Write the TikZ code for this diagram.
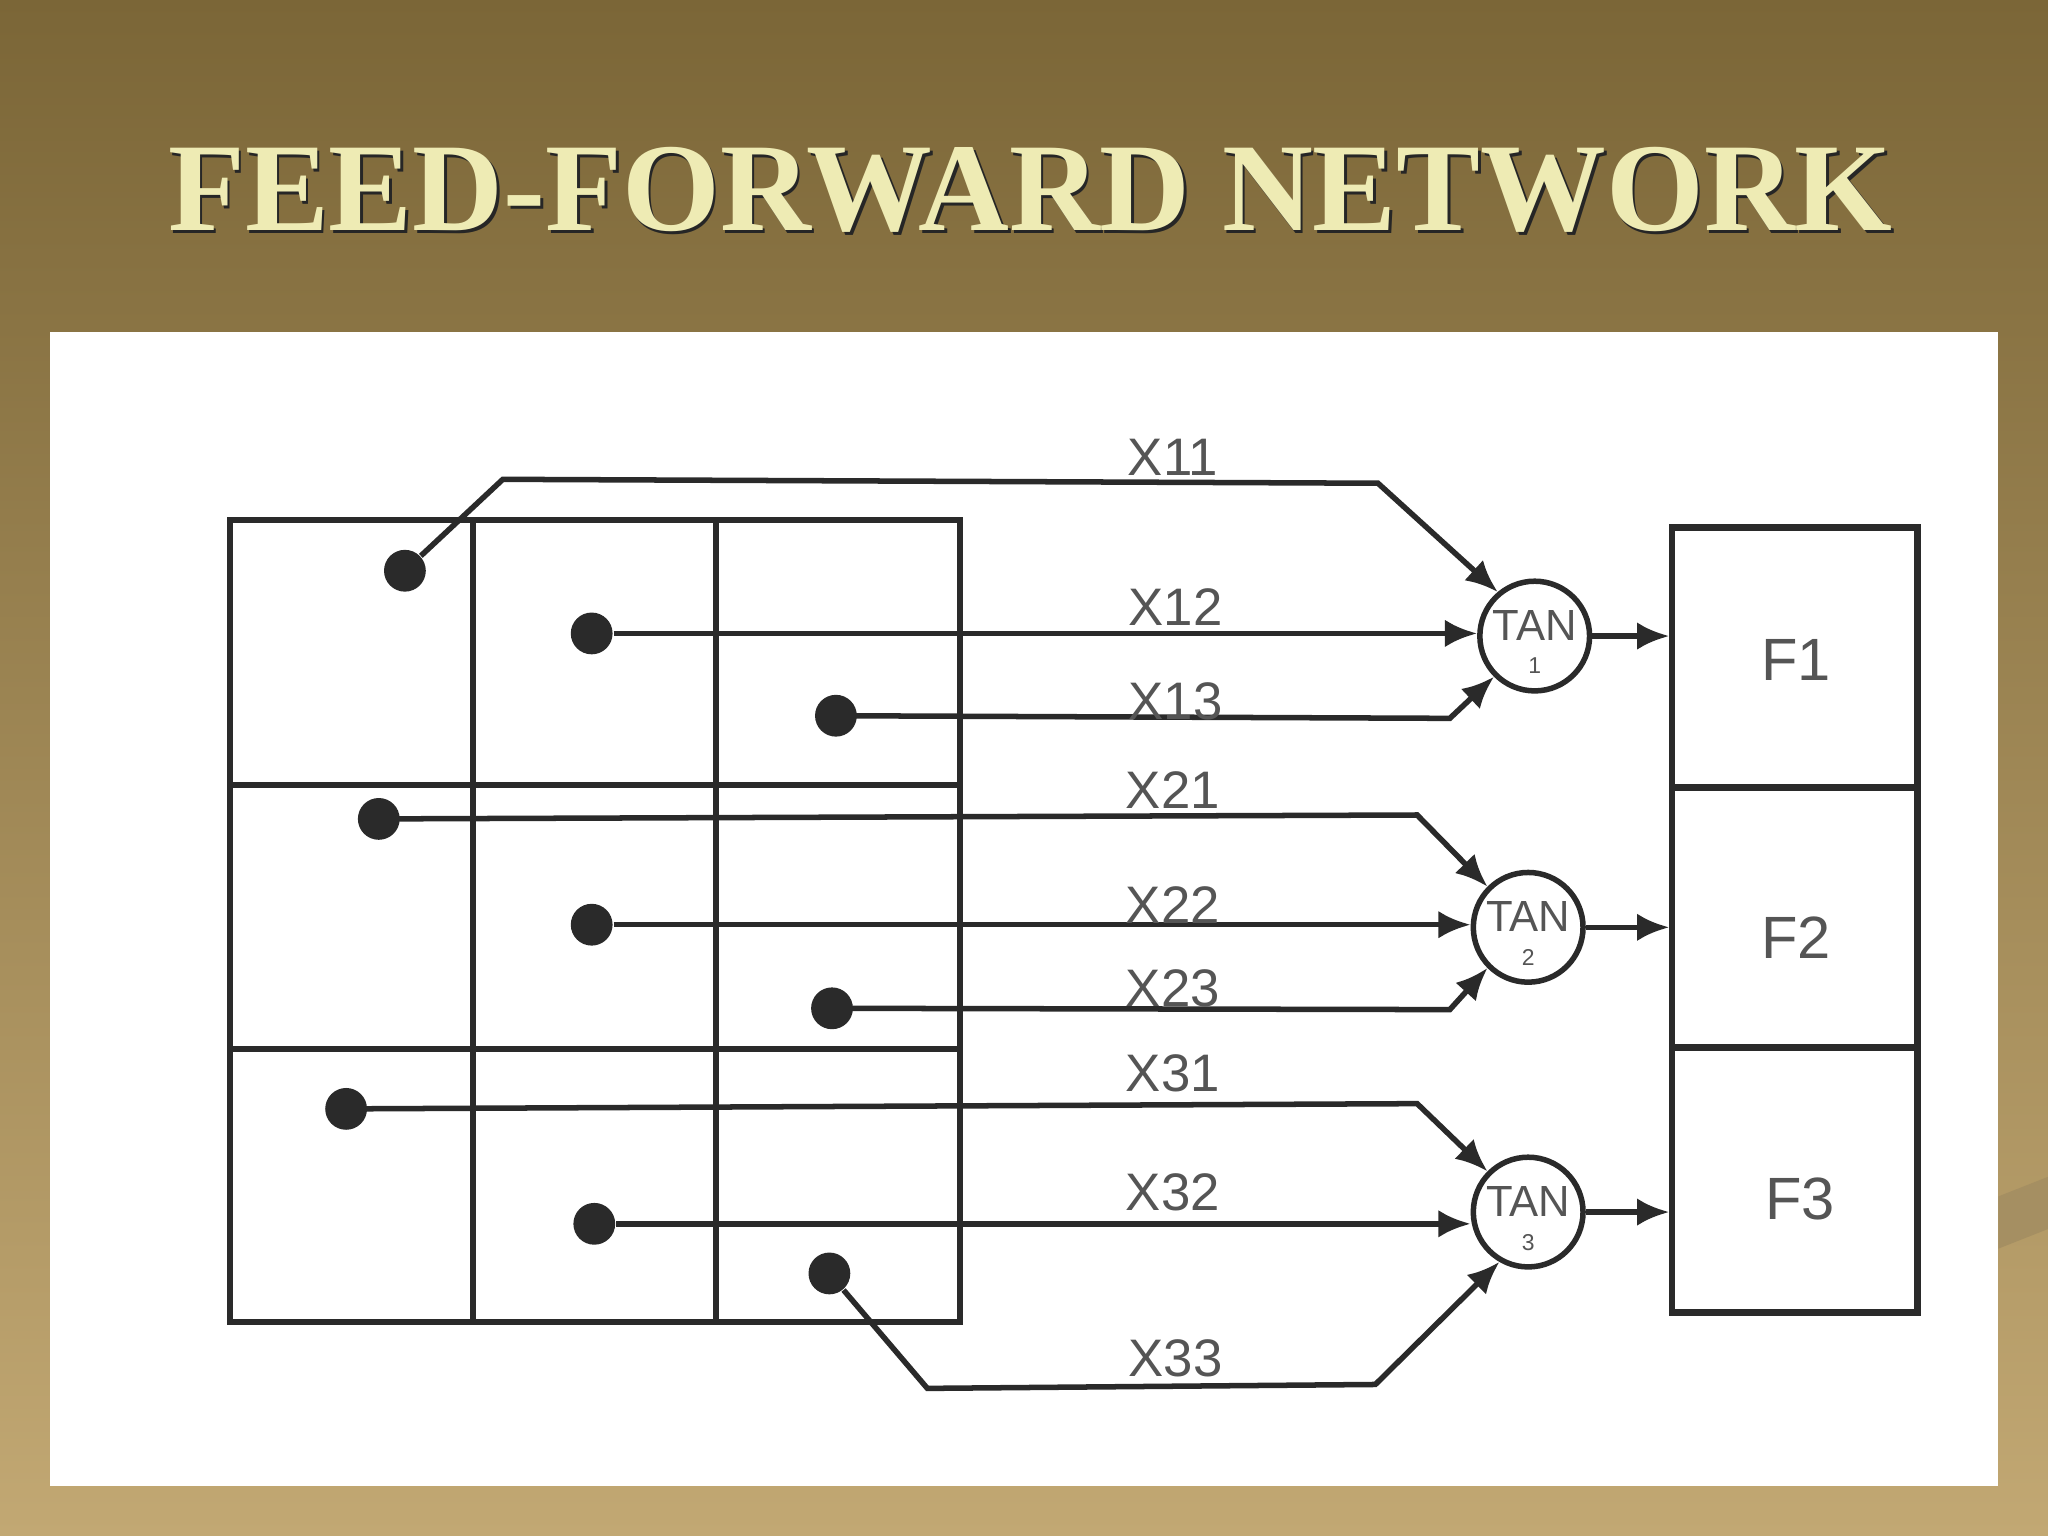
\documentclass[tikz,border=0pt]{standalone}
\usepackage{fontspec}
\setmainfont{Liberation Serif}
\newfontfamily\lab{Liberation Sans}
\usetikzlibrary{arrows.meta}
\definecolor{bgtop}{HTML}{7B6637}
\definecolor{bgbot}{HTML}{C2A873}
\definecolor{ttl}{HTML}{EEEBB4}
\definecolor{ink}{HTML}{2A2A2A}
\begin{document}
\begin{tikzpicture}[
  ln/.style={ink,line width=1.2pt},
  arr/.style={ln,-{Latex[length=7pt,width=6pt]}},
  dot/.style={circle,fill=ink,inner sep=0pt,minimum width=0.27cm,minimum height=0.32cm},
  tan/.style={circle,draw=ink,line width=1.2pt,minimum size=0.84cm,inner sep=0pt,fill=white},
  xl/.style={font=\lab\fontsize{11.5}{13}\selectfont,text=ink!80}
]
\useasboundingbox (0,0) rectangle (15.68,11.76);
\shade[top color=bgtop,bottom color=bgbot] (0,0) rectangle (15.68,11.76);
\fill[bgbot!85!black] (15.3,2.2) -- (15.68,2.35) -- (15.68,2.75) -- (15.3,2.6) -- cycle;
\fill[white] (0.38,0.38) rectangle (15.30,9.22);
\node[text=black!85] at (7.91,10.28) {\resizebox{13.2cm}{!}{\bfseries FEED-FORWARD NETWORK}};
\node (title) at (7.89,10.31) {\color{ttl}\resizebox{13.2cm}{!}{\bfseries FEED-FORWARD NETWORK}};
% grid
\draw[ln,line width=1.4pt] (1.76,1.64) rectangle (7.35,7.78);
\draw[ln,line width=1.4pt] (3.62,1.64) -- (3.62,7.78) (5.48,1.64) -- (5.48,7.78)
  (1.76,5.75) -- (7.35,5.75) (1.76,3.73) -- (7.35,3.73);
% output boxes
\draw[ln,line width=1.4pt] (12.80,1.71) rectangle (14.68,7.72);
\draw[ln,line width=1.4pt] (12.80,5.73) -- (14.68,5.73) (12.80,3.74) -- (14.68,3.74);
\node[font=\lab\fontsize{13}{15}\selectfont,text=ink!80] (F1) at (13.75,6.71) {F1};
\node[font=\lab\fontsize{13}{15}\selectfont,text=ink!80] (F2) at (13.75,4.58) {F2};
\node[font=\lab\fontsize{13}{15}\selectfont,text=ink!80] (F3) at (13.78,2.58) {F3};
\coordinate (o1) at (12.78,6.89);
\coordinate (o2) at (12.78,4.66);
\coordinate (o3) at (12.78,2.48);
% dots
\node[dot] (d11) at (3.10,7.39) {};
\node[dot] (d12) at (4.53,6.91) {};
\node[dot] (d13) at (6.40,6.28) {};
\node[dot] (d21) at (2.90,5.49) {};
\node[dot] (d22) at (4.53,4.68) {};
\node[dot] (d23) at (6.37,4.04) {};
\node[dot] (d31) at (2.65,3.27) {};
\node[dot] (d32) at (4.55,2.39) {};
\node[dot] (d33) at (6.35,2.01) {};
% TAN
\foreach \n/\x/\y in {1/11.75/6.89,2/11.70/4.66,3/11.70/2.48}{
  \node[tan] (t\n) at (\x,\y) {};
  \node[font=\lab\fontsize{9.5}{10}\selectfont,text=ink!80] at (\x,\y+0.08) {TAN};
  \node[font=\lab\fontsize{5}{5}\selectfont,text=ink!80] at (\x,\y-0.23) {\n};
}
% connectors
\draw[arr] (d11) -- (3.85,8.09) -- (10.55,8.06) -- (t1.130);
\draw[arr] (d12) -- (d12 -| t1.west);
\draw[arr] (d13.center) -- (11.10,6.26) -- (t1.225);
\draw[arr] (d21.center) -- (10.85,5.52) -- (t2.135);
\draw[arr] (d22) -- (d22 -| t2.west);
\draw[arr] (d23.center) -- (11.10,4.03) -- (t2.225);
\draw[arr] (d31.center) -- (10.85,3.31) -- (t3.135);
\draw[arr] (d32) -- (d32 -| t3.west);
\draw[arr] (d33) -- (7.10,1.13) -- (10.53,1.16) -- (t3.240);
\draw[arr] (t1.east) -- (o1);
\draw[arr] (t2.east) -- (o2);
\draw[arr] (t3.east) -- (o3);
% labels
\node[xl] at (8.98,8.26) {X11};
\node[xl] at (9.00,7.11) {X12};
\node[xl] at (9.00,6.39) {X13};
\node[xl] at (8.98,5.71) {X21};
\node[xl] at (8.98,4.83) {X22};
\node[xl] at (8.98,4.19) {X23};
\node[xl] at (8.98,3.54) {X31};
\node[xl] at (8.98,2.63) {X32};
\node[xl] at (9.00,1.36) {X33};
\end{tikzpicture}
\end{document}
